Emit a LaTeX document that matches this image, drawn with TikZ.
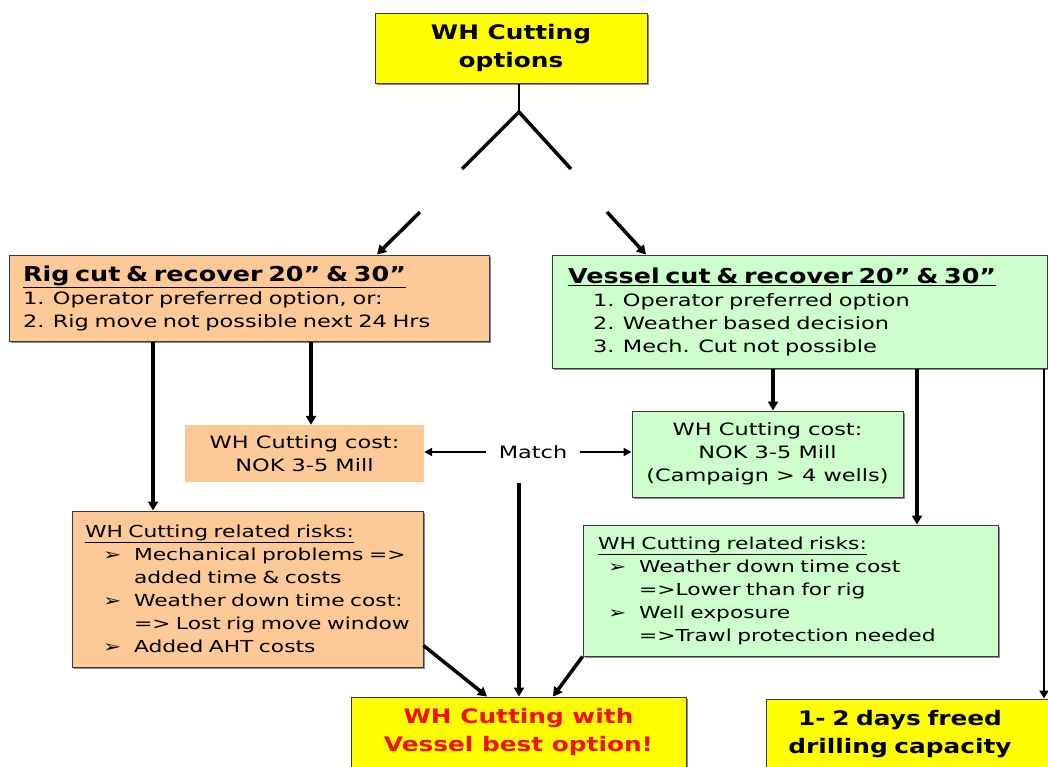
\documentclass[tikz,border=0pt]{standalone}
\usepackage{fontspec}
\setmainfont{DejaVu Sans}[FakeStretch=1.32]
\newfontfamily\boldfam{DejaVu Sans}[FakeStretch=1.24]
\usetikzlibrary{arrows.meta,shadows,calc}

\definecolor{boxyellow}{HTML}{FFFF00}
\definecolor{rigfill}{HTML}{FCC997}
\definecolor{vesfill}{HTML}{CCFFCC}
\definecolor{edgegray}{HTML}{3A3A3A}
\definecolor{alertred}{HTML}{F01010}

\newcommand{\titlefont}{\boldfam\fontsize{20}{28}\bfseries\selectfont}
\newcommand{\headfont}{\boldfam\fontsize{20.5}{25}\bfseries\selectfont}
\newcommand{\bodyfont}{\fontsize{17}{23}\selectfont}
\newcommand{\riskfont}{\fontsize{16.5}{23}\selectfont}
\newcommand{\bul}{\makebox[31pt][l]{\bfseries ➢}}

\begin{document}
\begin{tikzpicture}[x=1pt,y=-1pt,
  box/.style={draw=edgegray, line width=1pt, inner sep=0pt,
    drop shadow={shadow xshift=1.5pt,shadow yshift=-1.5pt,fill=black!45,opacity=1}},
  plain/.style={inner sep=0pt},
  conn/.style={line width=3.5pt},
  arr/.style={conn,-{Triangle[length=9pt,width=10pt]}},
  matcharr/.style={line width=2pt,-{Triangle[length=8pt,width=8pt]}},
  longarr/.style={line width=2.5pt,-{Triangle[length=8pt,width=9pt]}},
  thinline/.style={line width=1.2pt}
]
\clip (0,0) rectangle (1048,766);

% columns used by the vertical connectors
\coordinate (c1) at (153,0);
\coordinate (c2) at (311,0);
\coordinate (c3) at (519,0);
\coordinate (c4) at (773,0);
\coordinate (c5) at (917,0);
\coordinate (c6) at (1044,0);
\coordinate (tl) at (377,0);
\coordinate (tr) at (646,0);
\coordinate (bl) at (487,0);
\coordinate (br) at (553,0);

% split point below the top box and the broken diagonals
\coordinate (apex) at (519,112);
\coordinate (gl1) at (462,169);
\coordinate (gl2) at (420,212);
\coordinate (gr1) at (571,169);
\coordinate (gr2) at (607,212);

% boxes
\node[box, fill=boxyellow, minimum width=272, minimum height=70,
  font=\titlefont, align=center] (top) at (511,48) {WH Cutting\\options};

\node[box, fill=rigfill, minimum width=480, minimum height=86,
  text width=452, inner xsep=14, align=left, font=\bodyfont] (rig) at (249,298)
  {{\headfont\underline{Rig cut \& recover 20” \& 30”}}\\
   1. Operator preferred option, or:\\
   2. Rig move not possible next 24 Hrs};

\node[box, fill=vesfill, minimum width=495, minimum height=113,
  text width=463, inner xsep=16, align=left, font=\bodyfont] (ves) at (799.5,311.5)
  {{\headfont\underline{Vessel cut \& recover 20” \& 30”}}\\
   \hspace*{25pt}1. Operator preferred option\\
   \hspace*{25pt}2. Weather based decision\\
   \hspace*{25pt}3. Mech. Cut not possible};

\node[plain, fill=rigfill, minimum width=239, minimum height=57,
  align=center, font=\bodyfont] (rigcost) at (304.5,453.5)
  {WH Cutting cost:\\NOK 3-5 Mill};

\node[box, fill=vesfill, minimum width=271, minimum height=86,
  align=center, font=\bodyfont] (vescost) at (767.5,454)
  {WH Cutting cost:\\NOK 3-5 Mill\\(Campaign > 4 wells)};

\node[plain, minimum width=94, minimum height=62, font=\bodyfont] (match) at (533,452) {Match};

\node[box, fill=rigfill, minimum width=351, minimum height=156,
  text width=325, inner xsep=13, align=left, font=\riskfont] (rigrisk) at (247.5,589)
  {\underline{WH Cutting related risks:}\\
   \hspace*{18pt}\bul Mechanical problems =>\\
   \hspace*{49pt}added time \& costs\\
   \hspace*{18pt}\bul Weather down time cost:\\
   \hspace*{49pt}=> Lost rig move window\\
   \hspace*{18pt}\bul Added AHT costs};

\node[box, fill=vesfill, minimum width=415, minimum height=131,
  text width=385, inner xsep=15, align=left, font=\riskfont] (vesrisk) at (790.5,590.5)
  {\underline{WH Cutting related risks:}\\
   \hspace*{10pt}\bul Weather down time cost\\
   \hspace*{41pt}=>Lower than for rig\\
   \hspace*{10pt}\bul Well exposure\\
   \hspace*{41pt}=>Trawl protection needed};

\node[box, fill=boxyellow, minimum width=335, minimum height=70,
  align=center, font=\titlefont, text=alertred] (best) at (518.5,732)
  {WH Cutting with\\Vessel best option!};

% this box runs past the right edge; its text sits centred on the visible part
\node[box, fill=boxyellow, minimum width=286, minimum height=70,
  text width=286, align=left, font=\titlefont] (days) at (909,734)
  {\makebox[268pt][c]{1- 2 days freed}\\\makebox[268pt][c]{drilling capacity}};

% connectors
\draw[thinline] (top.south -| c3) -- (apex);
\draw[conn, line join=miter] (gl1) -- (apex) -- (gr1);
\draw[arr] (gl2) -- (rig.north -| tl);
\draw[arr] (gr2) -- (ves.north -| tr);

\draw[arr] (rig.south -| c1) -- (rigrisk.north -| c1);
\draw[arr] (rig.south -| c2) -- (rigcost.north -| c2);

\draw[matcharr] (match.west) -- (rigcost.east |- match.west);
\draw[matcharr] (match.east) -- (vescost.west |- match.east);
\draw[arr] (match.south) ++(-14,0) coordinate (ms) -- (best.north -| ms);

\draw[arr] (ves.south -| c4) -- (vescost.north -| c4);
\draw[arr] (ves.south -| c5) -- (vesrisk.north -| c5);
\draw[longarr] (ves.south -| c6) -- (days.north -| c6);

\draw[arr] ($(rigrisk.south east)+(0,-22)$) -- (best.north -| bl);
\draw[arr] (vesrisk.south west) -- (best.north -| br);
\end{tikzpicture}
\end{document}
